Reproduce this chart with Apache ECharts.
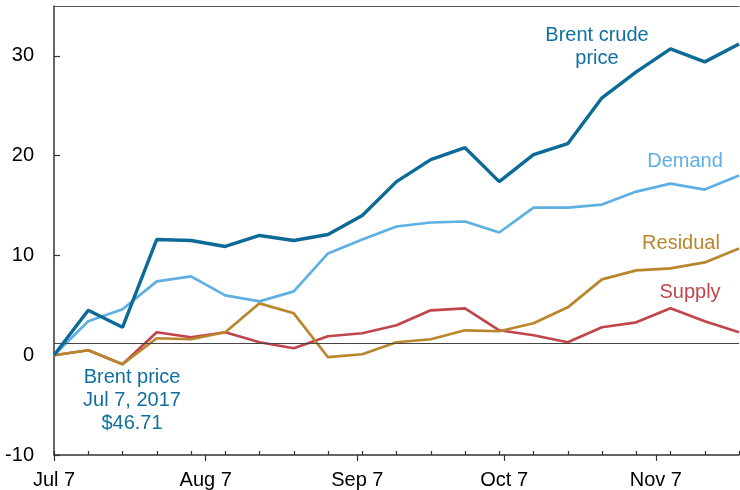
<!DOCTYPE html>
<html>
<head>
<meta charset="utf-8">
<script src="https://cdn.jsdelivr.net/npm/echarts@6/dist/echarts.min.js"></script>
<style>html,body{margin:0;padding:0;background:#fff}#c{width:740px;height:490px}</style>
</head>
<body>
<div id="c"></div>
<script>
// ---- data (weekly, change since Jul 7, 2017, $ per barrel) ----
var dates = ['2017-07-07','2017-07-14','2017-07-21','2017-07-28','2017-08-04','2017-08-11','2017-08-18',
             '2017-08-25','2017-09-01','2017-09-08','2017-09-15','2017-09-22','2017-09-29','2017-10-06',
             '2017-10-13','2017-10-20','2017-10-27','2017-11-03','2017-11-10','2017-11-17','2017-11-24'];
var brent    = [0, 4.5, 2.8, 11.6, 11.5, 10.9, 12.0, 11.5, 12.1, 14.0, 17.4, 19.6, 20.8, 17.4, 20.1, 21.2, 25.8, 28.4, 30.7, 29.4, 31.2];
var demand   = [0, 3.4, 4.6, 7.4, 7.9, 6.0, 5.4, 6.4, 10.2, 11.6, 12.9, 13.3, 13.4, 12.3, 14.8, 14.8, 15.1, 16.4, 17.2, 16.6, 18.0];
var residual = [0, 0.5, -0.9, 1.7, 1.6, 2.3, 5.2, 4.2, -0.2, 0.1, 1.3, 1.6, 2.5, 2.4, 3.2, 4.8, 7.6, 8.5, 8.7, 9.3, 10.7];
var supply   = [0, 0.5, -0.9, 2.3, 1.8, 2.3, 1.3, 0.7, 1.9, 2.2, 3.0, 4.5, 4.7, 2.5, 2.0, 1.3, 2.8, 3.3, 4.7, 3.4, 2.3];
var refLine  = 1.2;
var tickDates  = ['2017-07-07','2017-08-07','2017-09-07','2017-10-07','2017-11-07'];
var tickLabels = ['Jul 7','Aug 7','Sep 7','Oct 7','Nov 7'];
var yTicks = [-10, 0, 10, 20, 30];
var startDate = '2017-07-07', endDate = '2017-11-24';

// ---- helpers ----
function dayOf(s){ var p = s.split('-'); return Date.UTC(+p[0], +p[1]-1, +p[2]) / 86400000; }
var d0 = dayOf(startDate), dMax = dayOf(endDate) - d0;
function offs(s){ return dayOf(s) - d0; }
function pairs(vals){ return vals.map(function(v,i){ return [offs(dates[i]), v]; }); }
var tickPos = tickDates.map(offs);
var labelMap = {}; tickPos.forEach(function(p,i){ labelMap[p] = tickLabels[i]; });

var C_BRENT = '#0b6a96', C_DEM = '#5eb0e3', C_RES = '#b9862c', C_SUP = '#c1464c';
var FONT = 'Liberation Sans, Arial, sans-serif';
var axisCol = '#333';

var chart = echarts.init(document.getElementById('c'), null, {renderer:'canvas'});
chart.setOption({
  animation: false,
  grid: {left: 54, right: 1, top: 6, bottom: 35, containLabel: false},
  xAxis: [
    { type:'value', min:0, max:dMax, position:'bottom',
      axisLine:{show:true, onZero:false, lineStyle:{color:axisCol, width:1.5}},
      axisTick:{show:true, inside:false, length:6, customValues: tickPos, lineStyle:{color:axisCol, width:1.2}},
      axisLabel:{show:true, customValues: tickPos, margin:15, color:'#000', fontSize:20, fontFamily:FONT,
        formatter:function(v){ return labelMap[v] || ''; }},
      splitLine:{show:false} },
    { type:'value', min:0, max:dMax, interval:7, position:'bottom',
      axisLine:{show:false, onZero:false},
      axisTick:{show:true, inside:true, length:4, lineStyle:{color:axisCol, width:1.2}},
      axisLabel:{show:false}, splitLine:{show:false} },
    { type:'value', min:0, max:dMax, position:'top',
      axisLine:{show:true, onZero:false, lineStyle:{color:'#555', width:1.2}},
      axisTick:{show:false}, axisLabel:{show:false}, splitLine:{show:false} }
  ],
  yAxis: [
    { type:'value', min:-10, max:35, interval:10,
      axisLine:{show:true, onZero:false, lineStyle:{color:axisCol, width:1.5}},
      axisTick:{show:true, inside:true, length:6, customValues:yTicks, lineStyle:{color:axisCol, width:1.2}},
      axisLabel:{show:true, customValues:yTicks, margin:20, color:'#000', fontSize:20, fontFamily:FONT},
      splitLine:{show:false} }
  ],
  series: [
    { name:'Supply', type:'line', xAxisIndex:0, data:pairs(supply), showSymbol:false, symbol:'none',
      lineStyle:{color:C_SUP, width:2.7}, z:2,
      markLine:{silent:true, symbol:'none', label:{show:false}, animation:false,
        lineStyle:{color:'#444', width:1, type:'solid'}, data:[{yAxis:refLine}]} },
    { name:'Residual', type:'line', xAxisIndex:0, data:pairs(residual), showSymbol:false, symbol:'none',
      lineStyle:{color:C_RES, width:2.7}, z:3 },
    { name:'Demand', type:'line', xAxisIndex:0, data:pairs(demand), showSymbol:false, symbol:'none',
      lineStyle:{color:C_DEM, width:2.7}, z:4 },
    { name:'Brent', type:'line', xAxisIndex:0, data:pairs(brent), showSymbol:false, symbol:'none',
      lineStyle:{color:C_BRENT, width:3.4}, z:5 }
  ],
  graphic: [
    { type:'text', x:597, y:47, style:{text:'Brent crude\nprice', fill:'#1170a0', font:'20px ' + FONT, align:'center', verticalAlign:'middle', lineHeight:23} },
    { type:'text', x:685, y:161, style:{text:'Demand', fill:C_DEM, font:'20px ' + FONT, align:'center', verticalAlign:'middle'} },
    { type:'text', x:681, y:243, style:{text:'Residual', fill:C_RES, font:'20px ' + FONT, align:'center', verticalAlign:'middle'} },
    { type:'text', x:690, y:292, style:{text:'Supply', fill:C_SUP, font:'20px ' + FONT, align:'center', verticalAlign:'middle'} },
    { type:'text', x:132, y:400, style:{text:'Brent price\nJul 7, 2017\n$46.71', fill:'#1170a0', font:'20px ' + FONT, align:'center', verticalAlign:'middle', lineHeight:23} }
  ]
});
</script>
</body>
</html>
